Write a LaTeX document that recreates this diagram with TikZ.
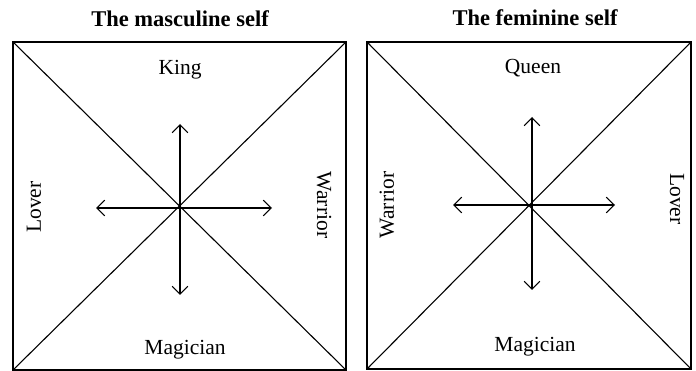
\documentclass[tikz,border=0pt]{standalone}
\usepackage{fontspec}
\setmainfont{Liberation Serif}
\usepackage{tikz}
\usetikzlibrary{positioning,arrows.meta}
\tikzset{
  armarrow/.style={-{Straight Barb[length=2.8mm, width=5.5mm]}, line width=1.1pt},
  selfbox/.style={draw, line width=1.1pt, inner sep=0pt},
  title/.style={font=\fontsize{22.5}{25}\selectfont\bfseries},
  role/.style={font=\fontsize{21.5}{24}\selectfont, inner sep=1pt}
}

\begin{document}
\begin{tikzpicture}[x=1pt, y=-1pt]
  \useasboundingbox (0,0) rectangle (696,371);
  % the masculine self
  \node[title] (mtitle) at (180,19) {The masculine self};
  \node[selfbox, minimum width=333pt, minimum height=328pt] (mbox) at (179.5,206) {};
  \draw[line width=1.1pt] (mbox.north west) -- (mbox.south east);
  \draw[line width=1.1pt] (mbox.north east) -- (mbox.south west);
  \coordinate (mc) at (180,208);
  \coordinate (mup) at (180,124);
  \coordinate (mdown) at (180,295);
  \coordinate (mleft) at (96,208);
  \coordinate (mright) at (272,208);
  \foreach \e in {mup,mdown,mleft,mright} \draw[armarrow] (mc) -- (\e);
  \node[role] (king) at (180,70) {King};
  \node[role] (mmagician) at (185,350) {Magician};
  \node[role, rotate=90] (mlover) at (34,207) {Lover};
  \node[role, rotate=-90] (mwarrior) at (324,205) {Warrior};
  % the feminine self
  \node[title] (ftitle) at (535,18) {The feminine self};
  \node[selfbox, minimum width=324pt, minimum height=327pt] (fbox) at (529,205.5) {};
  \draw[line width=1.1pt] (fbox.north west) -- (fbox.south east);
  \draw[line width=1.1pt] (fbox.north east) -- (fbox.south west);
  \coordinate (fc) at (532,205);
  \coordinate (fup) at (532,117);
  \coordinate (fdown) at (532,290);
  \coordinate (fleft) at (453,205);
  \coordinate (fright) at (615,205);
  \foreach \e in {fup,fdown,fleft,fright} \draw[armarrow] (fc) -- (\e);
  \node[role] (queen) at (533,68) {Queen};
  \node[role] (fmagician) at (535,347) {Magician};
  \node[role, rotate=90] (fwarrior) at (387,205) {Warrior};
  \node[role, rotate=-90] (flover) at (677,199) {Lover};
\end{tikzpicture}
\end{document}
